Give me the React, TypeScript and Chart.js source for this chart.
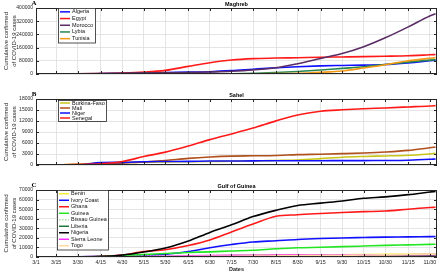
import React, { useEffect, useRef } from "react";
import { Chart, registerables } from "chart.js";

Chart.register(...registerables);

const FONT = '"Liberation Sans", Arial, sans-serif';
Chart.defaults.font.family = FONT;

// ---------- data ----------
const tickDates = ["3/1", "3/15", "3/30", "4/15", "4/30", "5/15", "5/30", "6/15", "6/30", "7/15", "7/30", "8/15", "8/30", "9/15", "9/30", "10/15", "10/30", "11/15", "11/30"];
const sampleDates = [...tickDates, "12/4"];
const endDate = "12/5";

// Maghreb
const algeria = [0, 48, 511, 2160, 4006, 6629, 9267, 11147, 13907, 20216, 29229, 38133, 44146, 48966, 51690, 53998, 57332, 67679, 80500, 84000];
const egypt = [2, 110, 656, 2350, 5537, 11228, 22082, 46289, 68311, 84843, 93356, 96590, 98939, 101641, 103317, 105159, 107555, 110767, 116303, 117800];
const morocco = [0, 28, 556, 2024, 4423, 6741, 7714, 8931, 12290, 16545, 24322, 37935, 62590, 94504, 123653, 165000, 219084, 285528, 352000, 365000];
const lybia = [0, 0, 8, 35, 61, 64, 168, 418, 824, 1433, 3621, 8929, 15156, 23964, 34016, 43821, 57731, 71844, 84000, 86000];
const tunisia = [0, 20, 312, 780, 994, 1035, 1076, 1110, 1178, 1319, 1535, 2198, 3685, 9742, 18180, 36370, 56000, 80000, 95000, 99000];

// Sahel
const burkina = [0, 15, 246, 515, 645, 773, 847, 899, 962, 1038, 1105, 1240, 1375, 1745, 2133, 2333, 2468, 2654, 3000, 3200];
const mali = [0, 0, 18, 171, 544, 806, 1226, 1809, 2181, 2424, 2513, 2609, 2828, 2941, 3089, 3274, 3547, 3990, 4710, 4900];
const niger = [0, 0, 27, 648, 719, 904, 955, 985, 1075, 1099, 1124, 1160, 1176, 1179, 1198, 1205, 1220, 1302, 1550, 1650];
const senegal = [0, 24, 162, 314, 933, 2310, 3516, 5173, 6925, 8481, 10106, 12032, 13655, 14655, 15050, 15334, 15565, 15835, 16094, 16200];

// Gulf of Guinea
const benin = [0, 1, 6, 35, 64, 327, 339, 442, 1199, 1602, 1805, 2115, 2219, 2306, 2357, 2503, 2710, 2868, 3000, 3050];
const ivoryCoast = [0, 4, 168, 638, 1275, 1971, 2750, 5679, 9702, 13037, 15713, 17026, 18340, 19273, 19908, 20332, 20740, 21000, 21330, 21400];
const ghana = [0, 6, 152, 641, 2074, 5735, 7616, 11964, 17741, 26125, 34406, 42532, 44205, 45434, 46482, 47372, 48055, 49957, 51667, 52000];
const guinea = [0, 1, 22, 404, 1537, 2473, 3706, 4668, 5404, 6276, 7055, 8586, 9638, 10183, 10793, 11472, 12166, 12700, 13200, 13300];
const bissauGuinea = [0, 0, 9, 50, 257, 913, 1256, 1492, 1654, 1902, 1981, 2117, 2245, 2324, 2362, 2403, 2414, 2422, 2447, 2450];
const liberia = [0, 0, 3, 59, 141, 219, 280, 446, 804, 1010, 1155, 1259, 1307, 1324, 1343, 1381, 1422, 1540, 1610, 1630];
const nigeria = [0, 2, 131, 407, 1932, 5162, 9302, 16658, 25694, 33616, 42208, 48770, 53727, 56256, 58460, 61307, 62853, 65148, 67838, 68500];
const sierraLeone = [0, 0, 0, 26, 136, 387, 861, 1225, 1498, 1711, 1803, 1934, 2021, 2103, 2171, 2257, 2344, 2384, 2430, 2440];
const togo = [0, 1, 30, 77, 116, 263, 422, 547, 661, 778, 931, 1149, 1358, 1623, 1835, 2030, 2261, 2605, 2950, 3000];

const yTitle = ["Cumulative confirmed", "of COVID-19 cases"];

// ---------- helpers ----------
const MONTH_START: Record<number, number> = { 3: 0, 4: 31, 5: 61, 6: 92, 7: 122, 8: 153, 9: 184, 10: 214, 11: 245, 12: 275 };
const dayOf = (s: string) => {
  const [m, d] = s.split("/").map(Number);
  return MONTH_START[m] + d - 1;
};

type Series = { label: string; color: string; data: number[]; dash?: number[] };
type PanelCfg = {
  letter: string;
  title: string;
  series: Series[];
  yMax: number;
  yStep: number;
  showX: boolean;
  top: number;
  height: number;
  padTop: number;
  padBottom: number;
  legend: { dx: number; dy: number; w: number; rowH: number };
};

const panels: PanelCfg[] = [
  {
    letter: "A",
    title: "Maghreb",
    series: [
      { label: "Algeria", color: "#1010ff", data: algeria },
      { label: "Egypt", color: "#ff1a1a", data: egypt },
      { label: "Morocco", color: "#5a2c66", data: morocco },
      { label: "Lybia", color: "#2a8650", data: lybia },
      { label: "Tunisia", color: "#f59a16", data: tunisia },
    ],
    yMax: 400000,
    yStep: 80000,
    showX: false,
    top: 0,
    height: 86,
    padTop: 8,
    padBottom: 12,
    legend: { dx: 22, dy: 0, w: 37, rowH: 6.7 },
  },
  {
    letter: "B",
    title: "Sahel",
    series: [
      { label: "Burkina-Faso", color: "#c8c41a", data: burkina },
      { label: "Mali", color: "#b0501c", data: mali },
      { label: "Niger", color: "#1010ff", data: niger },
      { label: "Senegal", color: "#ff1a1a", data: senegal },
    ],
    yMax: 18000,
    yStep: 3000,
    showX: false,
    top: 86,
    height: 92,
    padTop: 13,
    padBottom: 13,
    legend: { dx: 22, dy: 1, w: 48, rowH: 5 },
  },
  {
    letter: "C",
    title: "Gulf of Guinea",
    series: [
      { label: "Benin", color: "#f2ee30", data: benin },
      { label: "Ivory Coast", color: "#1010ff", data: ivoryCoast },
      { label: "Ghana", color: "#ff1a1a", data: ghana },
      { label: "Guinea", color: "#22e622", data: guinea },
      { label: "Bissau Guinea", color: "#a8dca8", data: bissauGuinea, dash: [1.5, 1.5] },
      { label: "Liberia", color: "#1e7a3a", data: liberia },
      { label: "Nigeria", color: "#000000", data: nigeria },
      { label: "Sierra Leone", color: "#ff30ff", data: sierraLeone },
      { label: "Togo", color: "#ffd8a6", data: togo },
    ],
    yMax: 70000,
    yStep: 10000,
    showX: true,
    top: 178,
    height: 95,
    padTop: 12,
    padBottom: 0,
    legend: { dx: 21, dy: 0, w: 51, rowH: 6.5 },
  },
];

const AXIS = "#262626";
const GRID = "#dedede";

function Panel({ cfg }: { cfg: PanelCfg }) {
  const ref = useRef<HTMLCanvasElement | null>(null);

  useEffect(() => {
    if (!ref.current) return;

    const decor = {
      id: "decor",
      afterDatasetsDraw(chart: any) {
        const { ctx, chartArea: a, scales } = chart;
        ctx.save();
        ctx.strokeStyle = AXIS;
        ctx.lineWidth = 1;
        ctx.strokeRect(Math.round(a.left) + 0.5, Math.round(a.top) + 0.5, Math.round(a.right - a.left) - 1, Math.round(a.bottom - a.top) - 1);
        const tl = 3;
        ctx.beginPath();
        scales.x.ticks.forEach((t: any) => {
          const x = Math.round(scales.x.getPixelForValue(t.value)) + 0.5;
          ctx.moveTo(x, a.bottom);
          ctx.lineTo(x, a.bottom - tl);
          ctx.moveTo(x, a.top);
          ctx.lineTo(x, a.top + tl);
        });
        scales.y.ticks.forEach((t: any) => {
          const y = Math.round(scales.y.getPixelForValue(t.value)) + 0.5;
          ctx.moveTo(a.left, y);
          ctx.lineTo(a.left + tl, y);
          ctx.moveTo(a.right, y);
          ctx.lineTo(a.right - tl, y);
        });
        ctx.stroke();
        ctx.restore();
      },
      afterDraw(chart: any) {
        const { ctx, chartArea: a } = chart;
        ctx.save();
        // panel letter
        ctx.fillStyle = "#000";
        ctx.font = 'bold 7px "Liberation Serif", serif';
        ctx.textAlign = "center";
        ctx.textBaseline = "middle";
        ctx.fillText(cfg.letter, a.left - 2, a.top - 5);
        // title
        ctx.font = `bold 5.5px ${FONT}`;
        ctx.fillText(cfg.title, (a.left + a.right) / 2, a.top - 4);
        // legend
        const L = cfg.legend;
        const bx = Math.round(a.left + L.dx);
        const by = Math.round(a.top + L.dy);
        const n = cfg.series.length;
        const bh = n * L.rowH + 1;
        ctx.fillStyle = "#fff";
        ctx.fillRect(bx, by, L.w, bh);
        ctx.strokeStyle = AXIS;
        ctx.lineWidth = 0.8;
        ctx.strokeRect(bx + 0.5, by + 0.5, L.w, bh);
        ctx.font = `5.5px ${FONT}`;
        ctx.textAlign = "left";
        cfg.series.forEach((s, i) => {
          const cy = by + 0.5 + L.rowH * (i + 0.5);
          ctx.strokeStyle = s.color;
          ctx.lineWidth = 1.5;
          ctx.setLineDash(s.dash ?? []);
          ctx.beginPath();
          ctx.moveTo(bx + 2, cy);
          ctx.lineTo(bx + 12, cy);
          ctx.stroke();
          ctx.setLineDash([]);
          ctx.fillStyle = "#111";
          ctx.fillText(s.label, bx + 14, cy);
        });
        ctx.restore();
      },
    };

    const chart = new Chart(ref.current, {
      type: "line",
      data: {
        datasets: cfg.series.map((s, i) => ({
          label: s.label,
          data: s.data.map((v, j) => ({ x: dayOf(sampleDates[j]), y: v })),
          borderColor: s.color,
          backgroundColor: s.color,
          borderWidth: 1.6,
          borderDash: s.dash ?? [],
          pointRadius: 0,
          fill: false,
          cubicInterpolationMode: "monotone" as const,
          order: -i,
        })),
      },
      options: {
        animation: false,
        responsive: false,
        devicePixelRatio: 1,
        layout: { padding: { top: cfg.padTop, bottom: cfg.padBottom, left: 0, right: 3 } },
        plugins: { legend: { display: false }, tooltip: { enabled: false } },
        scales: {
          x: {
            type: "linear",
            min: 0,
            max: dayOf(endDate),
            afterBuildTicks: (s: any) => {
              s.ticks = tickDates.map((d) => ({ value: dayOf(d) }));
            },
            afterFit: (s: any) => {
              s.height = cfg.showX ? 16 : 0;
            },
            ticks: {
              display: cfg.showX,
              autoSkip: false,
              maxRotation: 0,
              padding: 2,
              color: AXIS,
              font: { size: 5.3, family: FONT },
              callback: (_v: any, i: number) => tickDates[i] ?? "",
            },
            grid: { color: GRID, drawTicks: false, lineWidth: 0.8 },
            border: { display: false },
            title: {
              display: cfg.showX,
              text: "Dates",
              color: AXIS,
              font: { size: 5.5, weight: "bold", family: FONT },
              padding: { top: 0, bottom: 0 },
            },
          },
          y: {
            min: 0,
            max: cfg.yMax,
            afterFit: (s: any) => {
              s.width = 36;
            },
            ticks: {
              stepSize: cfg.yStep,
              padding: 3,
              color: AXIS,
              font: { size: 5, family: FONT },
              callback: (v: any) => String(v),
            },
            grid: { color: GRID, drawTicks: false, lineWidth: 0.8 },
            border: { display: false },
            title: {
              display: true,
              text: yTitle,
              color: AXIS,
              font: { size: 6, family: FONT, lineHeight: 1.33 },
              padding: { top: 2.5, bottom: 0 },
            },
          },
        },
      },
      plugins: [decor],
    } as any);

    return () => chart.destroy();
  }, [cfg]);

  return (
    <canvas
      ref={ref}
      width={440}
      height={cfg.height}
      style={{ position: "absolute", left: 0, top: cfg.top, width: 440, height: cfg.height, display: "block" }}
    />
  );
}

export default function App() {
  return (
    <div style={{ position: "absolute", left: 0, top: 0, width: 440, height: 273, background: "#fff", overflow: "hidden" }}>
      {panels.map((p) => (
        <Panel key={p.letter} cfg={p} />
      ))}
    </div>
  );
}
